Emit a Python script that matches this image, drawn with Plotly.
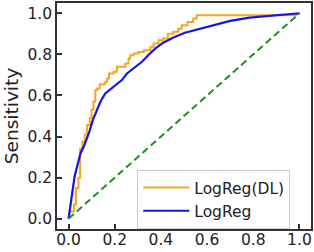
import plotly.graph_objects as go

# LogReg(DL) ROC (stepwise), FPR / TPR vertices
dl_fpr = [0, 0.006, 0.024, 0.024, 0.032, 0.032, 0.043, 0.043, 0.05, 0.05, 0.06, 0.06, 0.07, 0.07,
          0.08, 0.08, 0.092, 0.092, 0.1, 0.1, 0.108, 0.108, 0.116, 0.116, 0.124, 0.124, 0.135, 0.135,
          0.159, 0.159, 0.167, 0.167, 0.175, 0.175, 0.195, 0.195, 0.21, 0.21, 0.246, 0.246, 0.26, 0.26,
          0.267, 0.267, 0.282, 0.282, 0.303, 0.303, 0.325, 0.325, 0.355, 0.355, 0.368, 0.368, 0.39, 0.39,
          0.41, 0.41, 0.43, 0.43, 0.454, 0.454, 0.475, 0.475, 0.49, 0.49, 0.515, 0.515, 0.54, 0.54,
          0.555, 0.555, 0.985, 1.0]
dl_tpr = [0, 0.035, 0.035, 0.07, 0.07, 0.15, 0.15, 0.2, 0.2, 0.34, 0.34, 0.375, 0.375, 0.41,
          0.41, 0.456, 0.456, 0.49, 0.49, 0.53, 0.53, 0.57, 0.57, 0.626, 0.626, 0.634, 0.634, 0.654,
          0.654, 0.667, 0.667, 0.683, 0.683, 0.707, 0.707, 0.715, 0.715, 0.74, 0.74, 0.756, 0.756, 0.78,
          0.78, 0.796, 0.796, 0.804, 0.804, 0.812, 0.812, 0.82, 0.82, 0.837, 0.837, 0.853, 0.853, 0.869,
          0.869, 0.877, 0.877, 0.9, 0.9, 0.91, 0.91, 0.925, 0.925, 0.942, 0.942, 0.958, 0.958, 0.974,
          0.974, 0.99, 0.99, 1.0]

# LogReg ROC
lr_fpr = [0, 0.004, 0.009, 0.016, 0.021, 0.026, 0.037, 0.052, 0.066, 0.088, 0.105, 0.124, 0.138,
          0.159, 0.195, 0.231, 0.253, 0.282, 0.318, 0.346, 0.375, 0.41, 0.454, 0.504, 0.54, 0.583,
          0.64, 0.7, 0.784, 0.9, 1.0]
lr_tpr = [0, 0.03, 0.06, 0.108, 0.16, 0.205, 0.254, 0.319, 0.351, 0.416, 0.48, 0.529, 0.569,
          0.61, 0.642, 0.675, 0.707, 0.732, 0.764, 0.797, 0.828, 0.857, 0.882, 0.905, 0.916, 0.927,
          0.946, 0.963, 0.979, 0.992, 1.0]

chance = [0, 1]

ticks = [0.0, 0.2, 0.4, 0.6, 0.8, 1.0]
tick_text = ["0.0", "0.2", "0.4", "0.6", "0.8", "1.0"]

fig = go.Figure()
fig.add_trace(go.Scatter(x=dl_fpr, y=dl_tpr, mode="lines", name="LogReg(DL)",
                         line=dict(color="#f5a623", width=2)))
fig.add_trace(go.Scatter(x=lr_fpr, y=lr_tpr, mode="lines", name="LogReg",
                         line=dict(color="#1414e6", width=2.2)))
fig.add_trace(go.Scatter(x=chance, y=chance, mode="lines", showlegend=False,
                         line=dict(color="#1f8f1f", width=2, dash="7px,4px")))

axis_common = dict(
    range=[-0.05, 1.05], showgrid=False, zeroline=False,
    showline=True, linecolor="#333333", linewidth=1.5, mirror=True,
    ticks="inside", ticklen=5, tickwidth=1.5, tickcolor="#333333",
    tickvals=ticks, ticktext=tick_text,
    tickfont=dict(family="DejaVu Sans", size=15.5, color="#222222"),
)

fig.update_layout(
    width=314, height=252,
    margin=dict(l=57, r=1, t=3, b=23),
    paper_bgcolor="white", plot_bgcolor="white",
    xaxis=dict(**axis_common, ticklabelstandoff=-4),
    yaxis=dict(**axis_common,
               title=dict(text="Sensitivity", font=dict(family="DejaVu Sans", size=18.5, color="#222222"),
                          standoff=4)),
    legend=dict(x=0.316, y=0.261, xanchor="left", yanchor="top",
                bgcolor="white", bordercolor="#cccccc", borderwidth=1,
                font=dict(family="DejaVu Sans", size=15.5, color="#222222"),
                itemwidth=46, tracegroupgap=0),
    showlegend=True,
)

fig.write_html("out.html")
